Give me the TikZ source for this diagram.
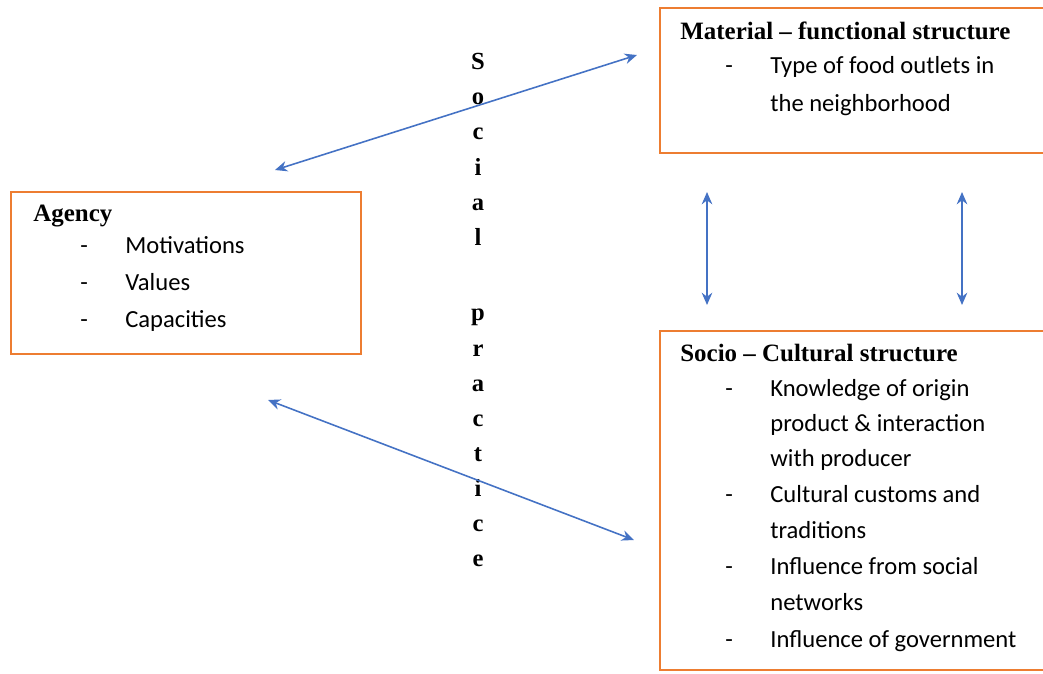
\documentclass[tikz,border=0pt]{standalone}
\usepackage{fontspec}
\setmainfont{Carlito}
\newfontfamily\headfont{Liberation Serif}
\usetikzlibrary{arrows.meta}
\definecolor{boxorange}{RGB}{237,125,49}
\definecolor{linkblue}{RGB}{68,114,196}

\begin{document}
\begin{tikzpicture}[x=0.02cm,y=-0.02cm,
  frame/.style={draw=boxorange, line width=1.2pt, anchor=north west, inner sep=0pt},
  head/.style={anchor=base west, inner sep=0pt, font=\headfont\bfseries\fontsize{14.2}{16}\selectfont},
  item/.style={anchor=base west, inner sep=0pt, font=\fontsize{14}{16}\selectfont},
  link/.style={draw=linkblue, line width=0.9pt, {Stealth[length=7pt,width=6pt]}-{Stealth[length=7pt,width=6pt]}}]
\clip (0,0) rectangle (1043,673);

\node[frame, minimum width=7cm, minimum height=3.24cm] (agency) at (10,191) {};
\node[frame, minimum width=8.2cm, minimum height=2.9cm] (material) at (659,7) {};
\node[frame, minimum width=8.2cm, minimum height=6.78cm] (socio) at (659,330) {};

\node[head] (agencyhead) at (33,221) {Agency};
\node[item] (ad1) at (80,253) {-};
\node[item] (a1) at (125,253) {Motivations};
\node[item] (ad2) at (80,290) {-};
\node[item] (a2) at (125,290) {Values};
\node[item] (ad3) at (80,327) {-};
\node[item] (a3) at (125,327) {Capacities};

\node[head] (materialhead) at (680,39) {Material – functional structure};
\node[item] (md1) at (725,73) {-};
\node[item] (m1) at (770,73) {Type of food outlets in};
\node[item] (m2) at (770,111) {the neighborhood};

\node[head] (sociohead) at (680,361) {Socio – Cultural structure};
\node[item] (sd1) at (725,396) {-};
\node[item] (s1) at (770,396) {Knowledge of origin};
\node[item] (s2) at (770,431) {product \& interaction};
\node[item] (s3) at (770,466) {with producer};
\node[item] (sd2) at (725,502) {-};
\node[item] (s4) at (770,502) {Cultural customs and};
\node[item] (s5) at (770,538) {traditions};
\node[item] (sd3) at (725,574) {-};
\node[item] (s6) at (770,574) {Influence from social};
\node[item] (s7) at (770,610) {networks};
\node[item] (sd4) at (725,647) {-};
\node[item] (s8) at (770,647) {Influence of government};

\node[anchor=north, inner sep=0pt, align=center,
  font=\headfont\bfseries\fontsize{14}{20}\selectfont] (practice) at (478,53)
  {S\\o\\c\\i\\a\\l\\[23pt]p\\r\\a\\c\\t\\i\\c\\e};

\coordinate (t1) at (275,170);
\coordinate (h1) at (637,55);
\coordinate (t2) at (268,400);
\coordinate (h2) at (634,540);
\coordinate (t3) at (707,192);
\coordinate (h3) at (707,305);
\coordinate (t4) at (962,192);
\coordinate (h4) at (962,305);
\path[link] (t1) -- (h1);
\path[link] (t2) -- (h2);
\path[link] (t3) -- (h3);
\path[link] (t4) -- (h4);
\end{tikzpicture}
\end{document}
